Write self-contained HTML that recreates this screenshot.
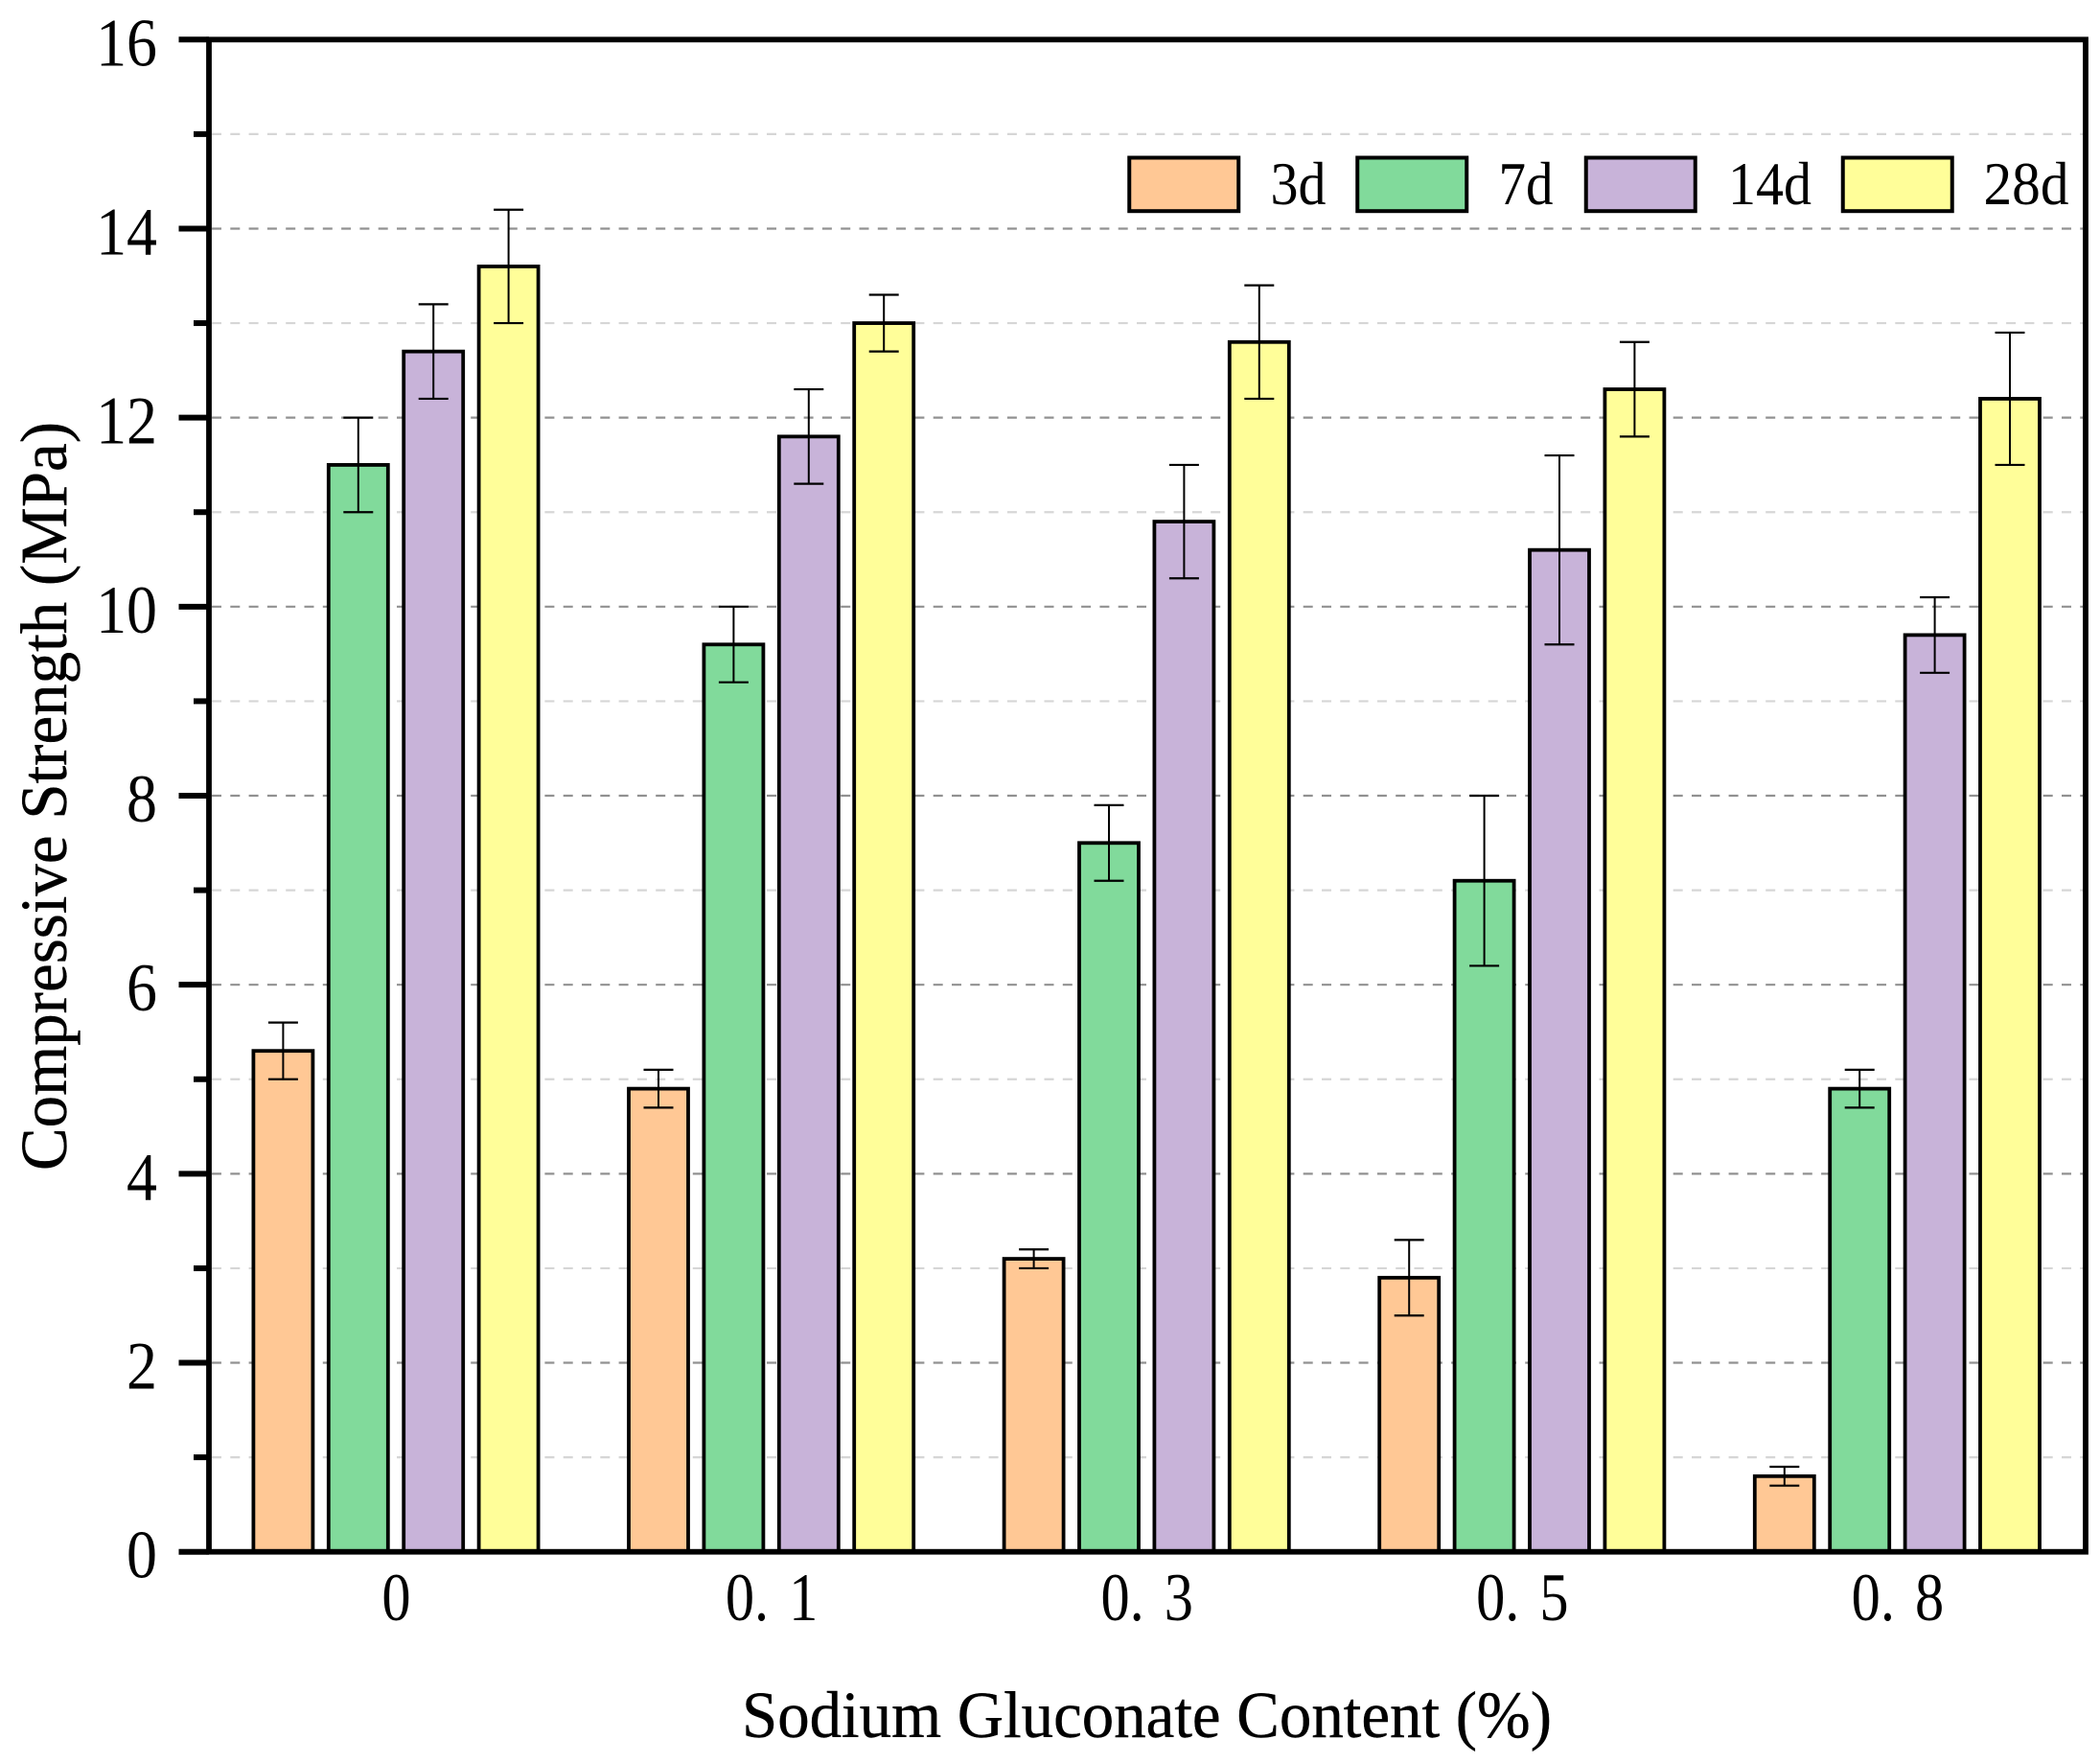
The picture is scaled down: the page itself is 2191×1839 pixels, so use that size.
<!DOCTYPE html>
<html lang="en">
<head>
<meta charset="utf-8">
<title>Compressive Strength vs Sodium Gluconate Content</title>
<style>
html,body{margin:0;padding:0;background:#fff;}
svg{display:block;}
text{font-family:"Liberation Serif","Noto Serif CJK SC",serif;fill:#000;}
</style>
</head>
<body>
<svg id="chart" xmlns="http://www.w3.org/2000/svg" width="2191" height="1839" viewBox="0 0 2191 1839">
<rect x="0" y="0" width="2191" height="1839" fill="#ffffff"/>
<g id="grid"></g>
<g id="bars"></g>
<g id="errors"></g>
<g id="axes"></g>
<g id="legend"></g>
<text x="774" y="1812" font-size="69" stroke="#000" stroke-width="0.4" textLength="845" lengthAdjust="spacingAndGlyphs">Sodium Gluconate Content (%)</text>
<text transform="translate(69,1221) rotate(-90)" x="0" y="0" font-size="69" stroke="#000" stroke-width="0.4" textLength="781" lengthAdjust="spacingAndGlyphs">Compressive Strength (MPa)</text>
</svg>
<script>
const categories = ['0', '0. 1', '0. 3', '0. 5', '0. 8'];
const seriesNames = ['3d', '7d', '14d', '28d'];
const seriesColors = ['#FFC895', '#81DA9B', '#C8B3D9', '#FFFE99'];

const values3d = [5.3, 4.9, 3.1, 2.9, 0.8];
const values7d = [11.5, 9.6, 7.5, 7.1, 4.9];
const values14d = [12.7, 11.8, 10.9, 10.6, 9.7];
const values28d = [13.6, 13.0, 12.8, 12.3, 12.2];

const errorHigh3d = [5.6, 5.1, 3.2, 3.3, 0.9];
const errorHigh7d = [12.0, 10.0, 7.9, 8.0, 5.1];
const errorHigh14d = [13.2, 12.3, 11.5, 11.6, 10.1];
const errorHigh28d = [14.2, 13.3, 13.4, 12.8, 12.9];

const errorLow3d = [5.0, 4.7, 3.0, 2.5, 0.7];
const errorLow7d = [11.0, 9.2, 7.1, 6.2, 4.7];
const errorLow14d = [12.2, 11.3, 10.3, 9.6, 9.3];
const errorLow28d = [13.0, 12.7, 12.2, 11.8, 11.5];

const yMajorTicks = [0, 2, 4, 6, 8, 10, 12, 14, 16];
const yMinorTicks = [1, 3, 5, 7, 9, 11, 13, 15];

const seriesValues = [values3d, values7d, values14d, values28d];
const seriesHigh = [errorHigh3d, errorHigh7d, errorHigh14d, errorHigh28d];
const seriesLow = [errorLow3d, errorLow7d, errorLow14d, errorLow28d];

const NS = 'http://www.w3.org/2000/svg';
const PLOT_LEFT = 218, PLOT_RIGHT = 2176, PLOT_TOP = 41.3, PLOT_BOTTOM = 1618.7;
const Y_MAX = 16;
const GROUP_START = 413, GROUP_STEP = 391.6, BAR_STEP = 78.4, BAR_WIDTH = 62, CAP_WIDTH = 31;

function yScale(v) { return PLOT_BOTTOM - (v / Y_MAX) * (PLOT_BOTTOM - PLOT_TOP); }
function xGroup(i) { return GROUP_START + GROUP_STEP * i; }
function xBar(i, j) { return xGroup(i) + (j - (seriesValues.length - 1) / 2) * BAR_STEP; }
function make(tag, attrs, parent) {
  const el = document.createElementNS(NS, tag);
  for (const k in attrs) el.setAttribute(k, attrs[k]);
  parent.appendChild(el);
  return el;
}

const gridG = document.getElementById('grid');
const barsG = document.getElementById('bars');
const errG = document.getElementById('errors');
const axesG = document.getElementById('axes');
const legendG = document.getElementById('legend');

yMinorTicks.forEach(function (v) {
  const line = make('line', {x1: 221, x2: PLOT_RIGHT - 3, y1: yScale(v), y2: yScale(v), stroke: '#d6d6d6', 'stroke-width': 2.2, 'stroke-dasharray': '10 9.3'}, gridG);
  
  
});
yMajorTicks.forEach(function (v) {
  if (v === 0 || v === Y_MAX) return;
  const line = make('line', {x1: 221, x2: PLOT_RIGHT - 3, y1: yScale(v), y2: yScale(v), stroke: '#919191', 'stroke-width': 2.2, 'stroke-dasharray': '10 9.3'}, gridG);
  
  
});

seriesValues.forEach(function (vals, j) {
  vals.forEach(function (v, i) {
    const cx = xBar(i, j);
    const bar = make('rect', {x: cx - BAR_WIDTH / 2, y: yScale(v), width: BAR_WIDTH, height: PLOT_BOTTOM - yScale(v), fill: seriesColors[j], stroke: '#000', 'stroke-width': 3.8}, barsG);
    
    

    const hi = yScale(seriesHigh[j][i]);
    const lo = yScale(seriesLow[j][i]);
    const stem = make('line', {x1: cx, x2: cx, y1: hi, y2: lo, stroke: '#000', 'stroke-width': 2}, errG);
    
    
    const capTop = make('line', {x1: cx - CAP_WIDTH / 2, x2: cx + CAP_WIDTH / 2, y1: hi, y2: hi, stroke: '#000', 'stroke-width': 2.2}, errG);
    
    
    const capBottom = make('line', {x1: cx - CAP_WIDTH / 2, x2: cx + CAP_WIDTH / 2, y1: lo, y2: lo, stroke: '#000', 'stroke-width': 2.2}, errG);
    
    
  });
});

const frame = make('rect', {x: PLOT_LEFT, y: PLOT_TOP, width: PLOT_RIGHT - PLOT_LEFT, height: PLOT_BOTTOM - PLOT_TOP, fill: 'none', stroke: '#000', 'stroke-width': 5.8}, axesG);



yMajorTicks.forEach(function (v) {
  const tick = make('line', {x1: 186.5, x2: PLOT_LEFT, y1: yScale(v), y2: yScale(v), stroke: '#000', 'stroke-width': 6}, axesG);
  
  
  const label = make('text', {transform: 'translate(164,' + (yScale(v) + 27) + ') scale(0.9,1)', 'text-anchor': 'end', 'font-size': 71}, axesG);
  label.textContent = String(v);
  
  
});
yMinorTicks.forEach(function (v) {
  const tick = make('line', {x1: 202, x2: PLOT_LEFT, y1: yScale(v), y2: yScale(v), stroke: '#000', 'stroke-width': 6}, axesG);
  
  
});
categories.forEach(function (c, i) {
  const label = make('text', {transform: 'translate(' + (xGroup(i) + 0.5) + ',1690) scale(0.85,1)', 'text-anchor': 'middle', 'font-size': 71, 'word-spacing': 7}, axesG);
  label.textContent = c;
  
  
});

const legendSwatchX = [1178.25, 1416.25, 1654.75, 1922.75];
const legendTextX = [1325.5, 1563.5, 1803, 2069.5];
const legendTextW = [58, 57, 87, 89];
seriesNames.forEach(function (name, j) {
  const swatch = make('rect', {x: legendSwatchX[j], y: 164.5, width: 114, height: 55.7, fill: seriesColors[j], stroke: '#000', 'stroke-width': 4}, legendG);
  
  
  const label = make('text', {x: legendTextX[j], y: 213, 'font-size': 63, textLength: legendTextW[j], lengthAdjust: 'spacingAndGlyphs'}, legendG);
  label.textContent = name;
  
  
});
</script>
</body>
</html>
